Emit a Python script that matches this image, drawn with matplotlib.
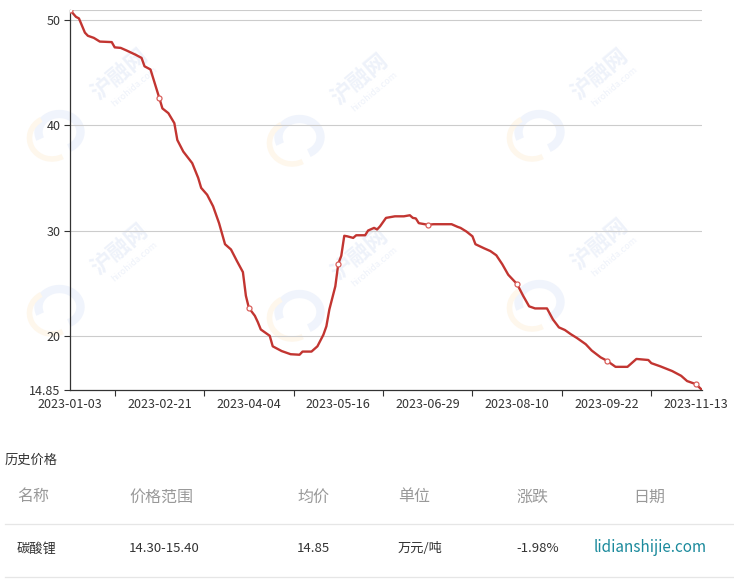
import numpy as np
import matplotlib.pyplot as plt
from matplotlib.patches import Arc

plt.rcParams['font.family'] = ['Noto Sans CJK SC', 'DejaVu Sans']

# price series (index = trading day position, value = 万元/吨)
day_idx = [0, 2, 3, 5, 6, 8, 10, 14, 15, 17, 19, 22, 24, 25, 27,
           30, 31, 33, 35, 36, 38, 41, 43, 44, 46, 48, 50, 52, 54, 56, 58, 59,
           60, 62, 63, 64, 67, 68, 71, 74, 77, 78, 81, 83, 85, 86, 87, 89,
           90, 91, 92, 93, 95, 96, 99, 100, 102, 103, 104, 106, 109, 112, 114, 115, 116, 117,
           120, 122, 128, 130, 131, 133, 135, 136, 139, 141, 143, 145, 147,
           150, 152, 154, 156, 160, 162, 164, 166, 168, 170, 173, 175, 178,
           180, 183, 187, 188, 190, 194, 195, 198, 202, 205, 207, 210, 212]
price = [50.95, 50.3, 50.15, 48.8, 48.5, 48.3, 47.95, 47.9, 47.4, 47.35, 47.1, 46.7, 46.4, 45.6, 45.3,
         42.55, 41.6, 41.15, 40.2, 38.6, 37.5, 36.4, 35.0, 34.05, 33.4, 32.3, 30.7, 28.7, 28.2, 27.1, 26.05, 23.8,
         22.65, 21.9, 21.3, 20.6, 20.0, 19.0, 18.55, 18.25, 18.2, 18.5, 18.5, 19.0, 20.1, 20.9, 22.5, 24.7,
         26.85, 27.6, 29.5, 29.45, 29.3, 29.55, 29.55, 30.0, 30.25, 30.1, 30.4, 31.2, 31.35, 31.35, 31.45, 31.2, 31.15, 30.7,
         30.55, 30.6, 30.6, 30.35, 30.25, 29.9, 29.45, 28.7, 28.3, 28.05, 27.65, 26.8, 25.8,
         24.9, 23.8, 22.8, 22.6, 22.6, 21.55, 20.8, 20.55, 20.15, 19.8, 19.2, 18.6, 17.95,
         17.65, 17.05, 17.05, 17.3, 17.8, 17.7, 17.4, 17.1, 16.65, 16.2, 15.7, 15.4, 14.85]

label_idx = [0, 30, 60, 90, 120, 150, 180, 210]
date_labels = ['2023-01-03', '2023-02-21', '2023-04-04', '2023-05-16',
               '2023-06-29', '2023-08-10', '2023-09-22', '2023-11-13']
tick_idx = [15, 45, 75, 105, 135, 165, 195]
y_ticks = [14.85, 20, 30, 40, 50]
y_min, y_max = 14.85, 50.95

table_title = '历史价格'
headers = ['名称', '价格范围', '均价', '单位', '涨跌', '日期']
row = ['碳酸锂', '14.30-15.40', '14.85', '万元/吨', '-1.98%']
col_x = [17, 129, 297, 398, 516, 633]

W, H = 734, 580
fig = plt.figure(figsize=(W / 100, H / 100), dpi=100)


def fx(px):
    return px / W


def fy(py):
    return 1 - py / H


# faint site watermarks behind the chart
wm_text = [(120, 75), (360, 80), (600, 75), (120, 250), (360, 255), (600, 245)]
for tx, ty in wm_text:
    fig.text(fx(tx), fy(ty), '沪融网', fontsize=16, fontweight='bold', color='#eef2fa',
             rotation=40, ha='center', va='center', zorder=0)
    fig.text(fx(tx + 14), fy(ty + 12), 'hirohida.com', fontsize=6.5, color='#eef2fa',
             rotation=40, ha='center', va='center', zorder=0)
    bg = fig.add_axes([fx(tx - 95), fy(ty + 90), fx(60), 60 / H], zorder=0)
    bg.set_xlim(-1, 1)
    bg.set_ylim(-1, 1)
    bg.axis('off')
    bg.add_patch(Arc((0.15, 0.1), 1.4, 1.2, theta1=-60, theta2=200, lw=6, color='#f0f4fc'))
    bg.add_patch(Arc((-0.1, -0.1), 1.5, 1.4, theta1=120, theta2=300, lw=4, color='#fef7ec'))

ax = fig.add_axes([fx(70), fy(390), fx(702 - 70), (390 - 10) / H], zorder=1)
ax.patch.set_alpha(0)

for gv in [20, 30, 40, 50, y_max]:
    ax.axhline(gv, color='#cccccc', lw=0.8, zorder=1)

ax.plot(day_idx, price, color='#c23531', lw=1.7, zorder=3, solid_joinstyle='round')
mark_pos = [day_idx.index(i) for i in label_idx]
ax.plot([day_idx[k] for k in mark_pos], [price[k] for k in mark_pos], 'o',
        ms=3.6, mfc='white', mec='#d9605c', mew=0.9, zorder=4)

ax.set_xlim(0, 212)
ax.set_ylim(y_min, y_max)
ax.set_xticks(label_idx)
ax.set_xticklabels(date_labels)
ax.set_xticks(tick_idx, minor=True)
ax.tick_params(axis='x', which='major', length=0, pad=6, labelsize=9, labelcolor='#333333')
ax.tick_params(axis='x', which='minor', length=4, width=0.8, color='#333333')
ax.set_yticks(y_ticks)
ax.set_yticklabels(['14.85', '20', '30', '40', '50'])
ax.tick_params(axis='y', length=4, width=0.8, color='#333333', pad=3,
               labelsize=9, labelcolor='#333333')
for s in ['top', 'right']:
    ax.spines[s].set_visible(False)
for s in ['left', 'bottom']:
    ax.spines[s].set_color('#333333')
    ax.spines[s].set_linewidth(0.9)

# table below the chart
fig.text(fx(5), fy(460), table_title, fontsize=9.5, color='#333333', va='center')
for x, h in zip(col_x, headers):
    fig.text(fx(x), fy(497), h, fontsize=11.5, color='#999999', va='center')
for x, v in zip(col_x, row):
    fig.text(fx(x), fy(549), v, fontsize=9.5, color='#333333', va='center')
fig.text(fx(594), fy(547), 'lidianshijie.com', fontsize=11, color='#1b8a9c', va='center')
for ly in [524, 577]:
    fig.add_artist(plt.Line2D([fx(5), fx(734)], [fy(ly), fy(ly)], color='#e6e6e6', lw=0.9))

fig.savefig('out.png', dpi=100)
